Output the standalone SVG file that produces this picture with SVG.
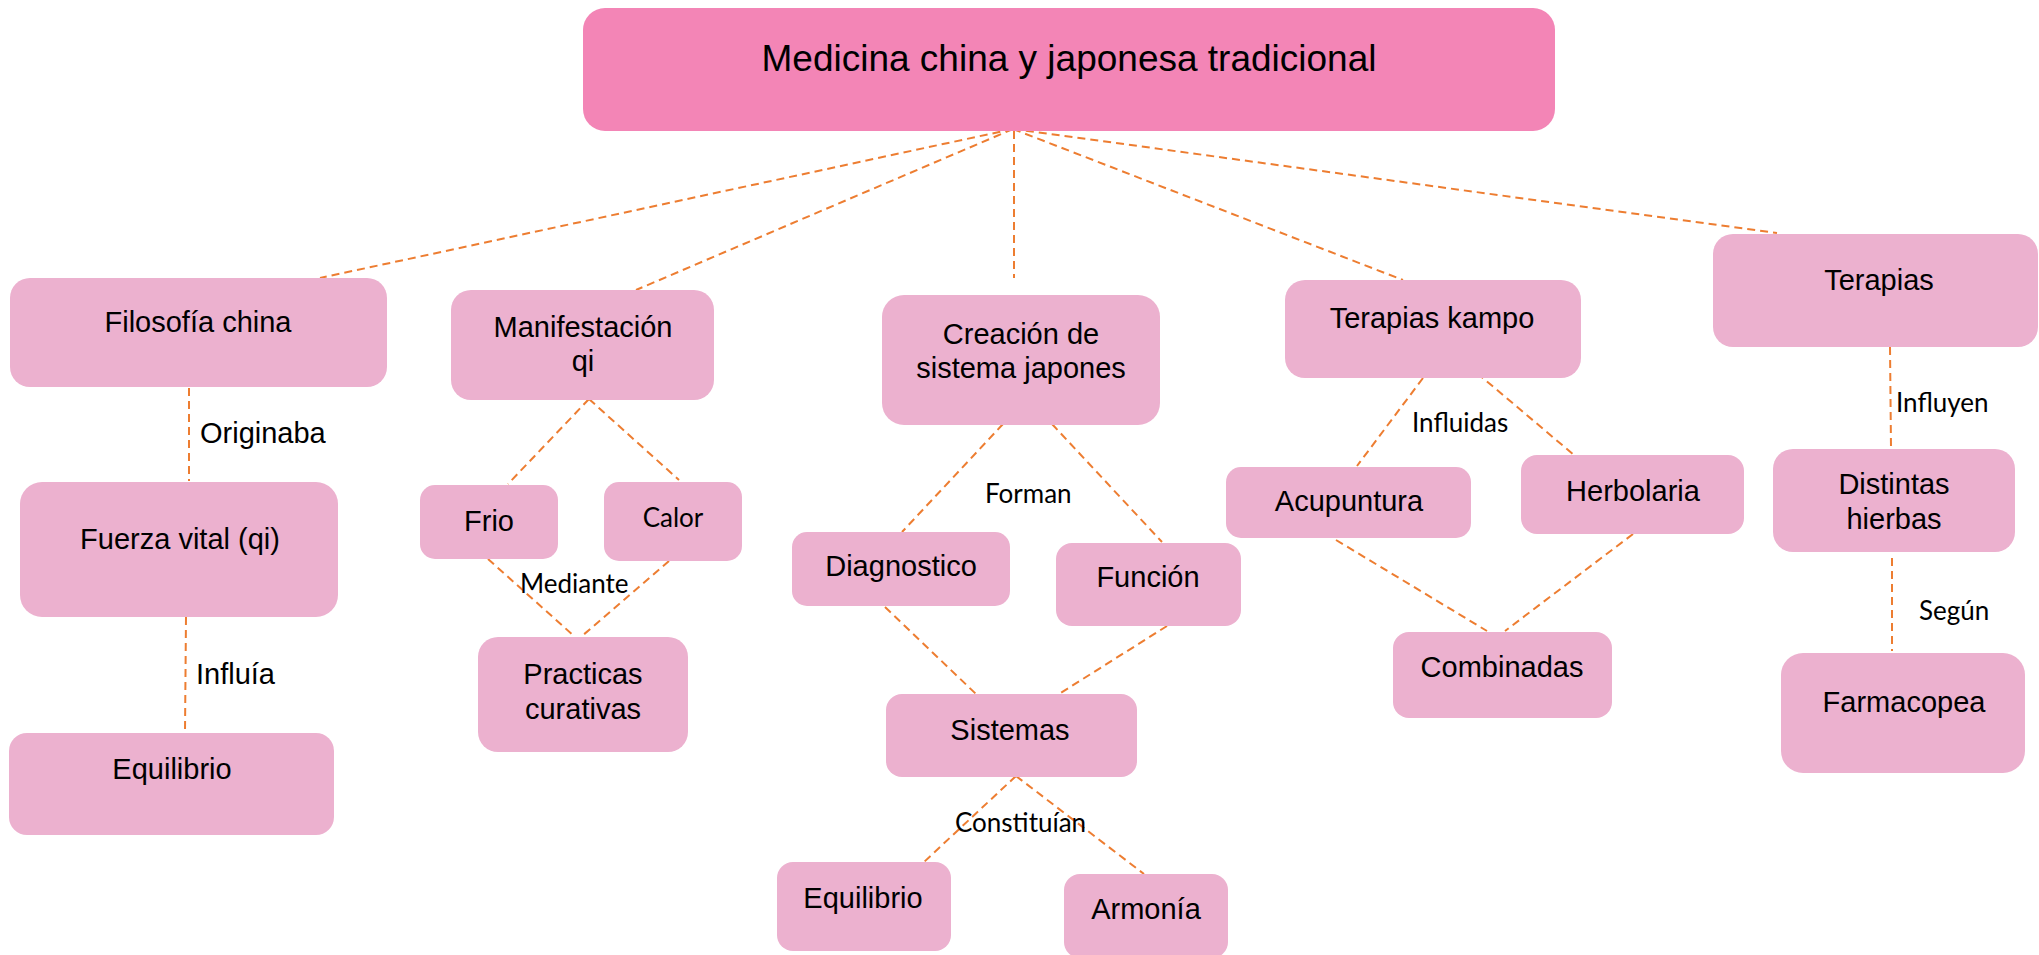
<svg xmlns="http://www.w3.org/2000/svg" width="2039" height="955" viewBox="0 0 2039 955">
<style>
.bg{fill:#ffffff}
.top{fill:#F385B6}
.n{fill:#ECB1CF}
.t{font-family:"Liberation Sans",Arial,sans-serif;font-size:29px;fill:#000;text-anchor:middle}
.tt{font-family:"Liberation Sans",Arial,sans-serif;font-size:37px;fill:#000;text-anchor:middle}
.la{font-family:"Liberation Sans",Arial,sans-serif;font-size:29px;fill:#000}
.lc{font-family:Lato,"Open Sans",sans-serif;font-size:26px;fill:#000}
.c{stroke:#ED7D31;stroke-width:2;stroke-dasharray:8 5;fill:none}
</style>
<rect class="bg" x="0" y="0" width="2039" height="955"/>
<g id="connectors">
<line class="c" x1="1013" y1="129" x2="320" y2="278"/>
<line class="c" x1="1013" y1="129" x2="636" y2="290"/>
<line class="c" x1="1014" y1="131" x2="1014" y2="278"/>
<line class="c" x1="1013" y1="129" x2="1403" y2="280"/>
<line class="c" x1="1013" y1="129" x2="1777" y2="233"/>
<line class="c" x1="189" y1="388" x2="189" y2="481"/>
<line class="c" x1="186" y1="617" x2="185" y2="732"/>
<line class="c" x1="589" y1="399" x2="508" y2="484"/>
<line class="c" x1="589" y1="399" x2="679" y2="480"/>
<line class="c" x1="488" y1="559" x2="574" y2="636"/>
<line class="c" x1="669" y1="561" x2="582" y2="636"/>
<line class="c" x1="1003" y1="424" x2="902" y2="532"/>
<line class="c" x1="1052" y1="424" x2="1162" y2="542"/>
<line class="c" x1="885" y1="607" x2="976" y2="694"/>
<line class="c" x1="1167" y1="626" x2="1059" y2="694"/>
<line class="c" x1="1016" y1="776" x2="924" y2="862"/>
<line class="c" x1="1016" y1="776" x2="1144" y2="874"/>
<line class="c" x1="1423" y1="378" x2="1357" y2="466"/>
<line class="c" x1="1477" y1="373" x2="1574" y2="455"/>
<line class="c" x1="1336" y1="540" x2="1487" y2="631"/>
<line class="c" x1="1633" y1="534" x2="1505" y2="631"/>
<line class="c" x1="1890" y1="347" x2="1891" y2="448"/>
<line class="c" x1="1892" y1="558" x2="1892" y2="651"/>
<text class="la" x="200" y="443">Originaba</text>
<text class="la" x="196" y="684">Influía</text>
<text class="lc" x="520" y="593">Mediante</text>
<text class="lc" x="985" y="503">Forman</text>
<text class="lc" x="955" y="832">Constituían</text>
<text class="lc" x="1412" y="432">Influidas</text>
<text class="lc" x="1896" y="412">Influyen</text>
<text class="lc" x="1919" y="620">Según</text>
</g>
<g id="n-main"><rect class="top" x="583" y="8" width="972" height="123" rx="22"/><text class="tt" x="1069" y="71">Medicina china y japonesa tradicional</text></g>
<g id="n-filosofia"><rect class="n" x="10" y="278" width="377" height="109" rx="20"/><text class="t" x="198" y="332">Filosofía china</text></g>
<g id="n-manifestacion"><rect class="n" x="451" y="290" width="263" height="110" rx="20"/><text class="t" x="583" y="337">Manifestación</text><text class="t" x="583" y="371">qi</text></g>
<g id="n-creacion"><rect class="n" x="882" y="295" width="278" height="130" rx="22"/><text class="t" x="1021" y="344">Creación de</text><text class="t" x="1021" y="378">sistema japones</text></g>
<g id="n-kampo"><rect class="n" x="1285" y="280" width="296" height="98" rx="20"/><text class="t" x="1432" y="328">Terapias kampo</text></g>
<g id="n-terapias"><rect class="n" x="1713" y="234" width="325" height="113" rx="20"/><text class="t" x="1879" y="290">Terapias</text></g>
<g id="n-fuerza"><rect class="n" x="20" y="482" width="318" height="135" rx="22"/><text class="t" x="180" y="549">Fuerza vital (qi)</text></g>
<g id="n-equilibrio1"><rect class="n" x="9" y="733" width="325" height="102" rx="18"/><text class="t" x="172" y="779">Equilibrio</text></g>
<g id="n-frio"><rect class="n" x="420" y="485" width="138" height="74" rx="15"/><text class="t" x="489" y="531">Frio</text></g>
<g id="n-calor"><rect class="n" x="604" y="482" width="138" height="79" rx="15"/><text class="lc" x="673" y="527" text-anchor="middle">Calor</text></g>
<g id="n-practicas"><rect class="n" x="478" y="637" width="210" height="115" rx="20"/><text class="t" x="583" y="684">Practicas</text><text class="t" x="583" y="719">curativas</text></g>
<g id="n-diagnostico"><rect class="n" x="792" y="532" width="218" height="74" rx="15"/><text class="t" x="901" y="576">Diagnostico</text></g>
<g id="n-funcion"><rect class="n" x="1056" y="543" width="185" height="83" rx="16"/><text class="t" x="1148" y="587">Función</text></g>
<g id="n-sistemas"><rect class="n" x="886" y="694" width="251" height="83" rx="16"/><text class="t" x="1010" y="740">Sistemas</text></g>
<g id="n-equilibrio2"><rect class="n" x="777" y="862" width="174" height="89" rx="16"/><text class="t" x="863" y="908">Equilibrio</text></g>
<g id="n-armonia"><rect class="n" x="1064" y="874" width="164" height="84" rx="16"/><text class="t" x="1146" y="919">Armonía</text></g>
<g id="n-acupuntura"><rect class="n" x="1226" y="467" width="245" height="71" rx="15"/><text class="t" x="1349" y="511">Acupuntura</text></g>
<g id="n-herbolaria"><rect class="n" x="1521" y="455" width="223" height="79" rx="16"/><text class="t" x="1633" y="501">Herbolaria</text></g>
<g id="n-combinadas"><rect class="n" x="1393" y="632" width="219" height="86" rx="16"/><text class="t" x="1502" y="677">Combinadas</text></g>
<g id="n-distintas"><rect class="n" x="1773" y="449" width="242" height="103" rx="20"/><text class="t" x="1894" y="494">Distintas</text><text class="t" x="1894" y="529">hierbas</text></g>
<g id="n-farmacopea"><rect class="n" x="1781" y="653" width="244" height="120" rx="22"/><text class="t" x="1904" y="712">Farmacopea</text></g>
</svg>
